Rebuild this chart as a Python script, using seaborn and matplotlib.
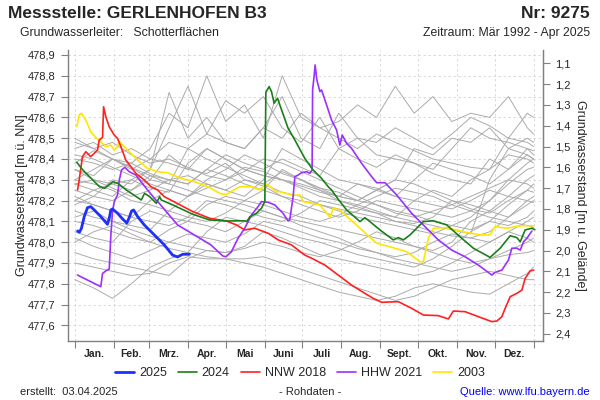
import matplotlib
matplotlib.use("Agg")
import matplotlib.pyplot as plt
from matplotlib.ticker import FixedLocator, FuncFormatter
import seaborn as sns

# --- axis definitions -------------------------------------------------------
month_starts = [0, 31, 59, 90, 120, 151, 181, 212, 243, 273, 304, 334, 365]
month_names = ["Jan.", "Feb.", "Mrz.", "Apr.", "Mai", "Juni", "Juli",
               "Aug.", "Sept.", "Okt.", "Nov.", "Dez."]
left_ticks = [477.6, 477.7, 477.8, 477.9, 478.0, 478.1, 478.2,
              478.3, 478.4, 478.5, 478.6, 478.7, 478.8, 478.9]
right_ticks = [1.1, 1.2, 1.3, 1.4, 1.5, 1.6, 1.7, 1.8, 1.9, 2.0, 2.1, 2.2, 2.3, 2.4]
ground_level = 479.96

# --- highlighted years (day of year, level m ue. NN) -------------------------
days_2025 = [2.2, 3.7, 5.3, 7.5, 10.1, 12.7, 15.5, 20.7, 26.0, 27.4, 28.7, 30.0, 34.0,
             38.0, 41.4, 43.3, 45.2, 46.8, 50.0, 55.3, 63.3, 71.2, 77.8, 81.8, 85.8, 91.2]
level_2025 = [478.054, 478.048, 478.067, 478.123, 478.166, 478.171, 478.155, 478.123,
              478.086, 478.115, 478.155, 478.160, 478.139, 478.112, 478.092, 478.118,
              478.150, 478.155, 478.123, 478.083, 478.035, 477.987, 477.938, 477.929,
              477.942, 477.942]

days_2024 = [1.6, 6.4, 14.3, 19.7, 23.7, 30.3, 34.3, 41.0, 48.9, 52.9, 55.5, 59.5, 64.9,
             67.5, 68.8, 78.0, 94.0, 107.3, 120.6, 133.9, 137.0, 139.2, 144.5, 148.5,
             151.2, 152.0, 154.6, 156.5, 158.6, 161.3, 164.5, 169.7, 175.1, 183.0, 189.6,
             196.3, 201.6, 204.3, 209.6, 216.3, 226.9, 230.8, 234.8, 242.8, 253.4, 257.4,
             261.4, 266.7, 272.0, 277.3, 285.3, 295.9, 306.5, 317.1, 330.4, 338.4, 346.4,
             351.7, 354.4, 358.3, 363.7, 366.0]
level_2024 = [478.384, 478.347, 478.299, 478.267, 478.259, 478.291, 478.283, 478.251,
              478.219, 478.203, 478.235, 478.219, 478.187, 478.219, 478.203, 478.179,
              478.134, 478.107, 478.102, 478.103, 478.100, 478.122, 478.139, 478.163,
              478.195, 478.720, 478.748, 478.724, 478.668, 478.692, 478.636, 478.548,
              478.491, 478.403, 478.347, 478.307, 478.267, 478.251, 478.206, 478.155,
              478.099, 478.118, 478.099, 478.059, 478.011, 478.022, 478.011, 478.035,
              478.067, 478.099, 478.103, 478.083, 478.026, 477.971, 477.927, 477.971,
              478.031, 478.022, 478.002, 478.059, 478.067, 478.060]

days_2018 = [2.2, 3.5, 6.1, 8.8, 12.7, 18.1, 19.4, 22.1, 22.9, 24.7, 27.4, 31.4, 34.0,
             36.7, 40.6, 48.6, 55.3, 60.6, 65.9, 71.2, 94.0, 107.3, 120.6, 128.6, 135.2,
             143.2, 153.8, 161.8, 172.4, 183.0, 188.4, 199.0, 209.6, 220.2, 230.8, 237.5,
             244.1, 257.4, 268.0, 277.3, 289.2, 297.2, 301.2, 310.5, 321.1, 331.8, 335.8,
             339.8, 342.4, 346.4, 351.7, 355.7, 358.3, 362.3, 365.0]
level_2018 = [478.251, 478.299, 478.411, 478.435, 478.411, 478.443, 478.491, 478.504,
              478.651, 478.603, 478.555, 478.515, 478.499, 478.459, 478.395, 478.331,
              478.299, 478.267, 478.251, 478.219, 478.147, 478.115, 478.102, 478.083,
              478.059, 478.067, 478.043, 478.011, 477.987, 477.938, 477.923, 477.890,
              477.842, 477.794, 477.754, 477.730, 477.711, 477.714, 477.682, 477.650,
              477.647, 477.631, 477.669, 477.666, 477.642, 477.618, 477.621, 477.642,
              477.682, 477.738, 477.754, 477.770, 477.826, 477.862, 477.866]

days_2021 = [2.2, 7.5, 20.7, 22.1, 24.7, 27.4, 28.7, 30.0, 31.4, 34.0, 35.4, 37.2, 39.8,
             43.3, 48.6, 52.6, 57.9, 64.5, 67.2, 73.9, 81.8, 95.1, 108.3, 117.7, 120.3,
             124.6, 129.9, 135.2, 140.6, 145.8, 148.5, 153.8, 159.1, 165.7, 169.7, 171.0,
             173.7, 175.1, 177.7, 180.4, 184.4, 187.0, 188.8, 189.2, 190.5, 191.2, 192.6,
             195.0, 196.3, 199.0, 204.3, 208.3, 210.9, 212.8, 216.3, 220.2, 228.2, 236.2,
             240.2, 246.8, 256.1, 268.0, 278.6, 289.2, 299.9, 310.5, 321.1, 331.8, 334.4,
             339.8, 345.0, 347.7, 351.7, 354.4, 357.0, 359.7, 363.7]
level_2021 = [477.842, 477.826, 477.786, 477.850, 477.862, 477.871, 478.035, 478.147,
              478.195, 478.227, 478.299, 478.347, 478.360, 478.339, 478.323, 478.291,
              478.251, 478.203, 478.187, 478.139, 478.083, 478.035, 477.987, 477.934,
              477.930, 477.954, 478.019, 478.067, 478.131, 478.171, 478.195, 478.192,
              478.179, 478.139, 478.102, 478.107, 478.219, 478.315, 478.323, 478.334,
              478.339, 478.331, 478.347, 478.732, 478.804, 478.852, 478.780, 478.724,
              478.732, 478.684, 478.587, 478.539, 478.467, 478.515, 478.475, 478.451,
              478.379, 478.315, 478.286, 478.286, 478.227, 478.139, 478.075, 478.011,
              477.962, 477.930, 477.890, 477.842, 477.855, 477.866, 477.914, 477.971,
              477.971, 477.962, 478.002, 478.019, 478.054]

days_2003 = [1.6, 3.5, 5.3, 8.8, 12.7, 16.7, 20.7, 24.7, 28.7, 31.4, 34.0, 35.4, 42.0,
             50.0, 57.9, 65.9, 73.9, 84.5, 95.1, 105.7, 116.3, 120.6, 131.2, 140.6, 147.2,
             152.5, 160.5, 163.1, 173.7, 179.0, 181.7, 195.0, 203.0, 205.6, 210.9, 226.9,
             240.2, 250.8, 264.1, 274.7, 277.3, 281.3, 285.3, 295.9, 309.2, 322.5, 330.4,
             334.4, 343.8, 354.4, 365.0]
level_2003 = [478.555, 478.612, 478.620, 478.587, 478.531, 478.504, 478.483, 478.459,
              478.467, 478.443, 478.459, 478.483, 478.443, 478.395, 478.355, 478.339,
              478.334, 478.307, 478.291, 478.267, 478.232, 478.230, 478.267, 478.267,
              478.251, 478.280, 478.243, 478.243, 478.225, 478.227, 478.195, 478.179,
              478.120, 478.163, 478.155, 478.067, 477.995, 477.978, 477.954, 477.906,
              477.906, 478.019, 478.067, 478.070, 478.050, 478.035, 478.035, 478.075,
              478.067, 478.079, 478.079]

# --- other years (grey background), sampled every 15 days ---------------------
gray_days = [0, 15, 30, 45, 60, 75, 90, 105, 120, 135, 150, 165, 180,
             195, 210, 225, 240, 255, 270, 285, 300, 315, 330, 345, 360, 365]
gray_a = [478.30, 478.35, 478.40, 478.38, 478.45, 478.62, 478.55, 478.80, 478.58, 478.66,
          478.50, 478.80, 478.60, 478.55, 478.58, 478.66, 478.60, 478.75, 478.62, 478.70,
          478.58, 478.62, 478.60, 478.70, 478.55, 478.52]
gray_b = [478.20, 478.25, 478.28, 478.30, 478.35, 478.72, 478.50, 478.60, 478.48, 478.45,
          478.55, 478.70, 478.50, 478.45, 478.62, 478.50, 478.42, 478.40, 478.38, 478.35,
          478.45, 478.55, 478.50, 478.48, 478.45, 478.44]
gray_c = [478.45, 478.48, 478.42, 478.45, 478.40, 478.38, 478.35, 478.45, 478.40, 478.35,
          478.32, 478.30, 478.28, 478.25, 478.22, 478.20, 478.25, 478.30, 478.45, 478.42,
          478.50, 478.48, 478.55, 478.45, 478.50, 478.48]
gray_d = [478.40, 478.38, 478.35, 478.38, 478.33, 478.30, 478.32, 478.28, 478.25, 478.30,
          478.27, 478.22, 478.20, 478.18, 478.16, 478.14, 478.12, 478.10, 478.09, 478.12,
          478.20, 478.18, 478.15, 478.22, 478.30, 478.32]
gray_e = [478.35, 478.32, 478.40, 478.36, 478.30, 478.42, 478.35, 478.33, 478.38, 478.30,
          478.28, 478.34, 478.30, 478.26, 478.24, 478.20, 478.18, 478.15, 478.13, 478.10,
          478.08, 478.06, 478.10, 478.18, 478.25, 478.28]
gray_f = [478.28, 478.25, 478.22, 478.30, 478.26, 478.24, 478.38, 478.45, 478.40, 478.35,
          478.32, 478.30, 478.26, 478.22, 478.20, 478.18, 478.15, 478.12, 478.20, 478.25,
          478.22, 478.30, 478.35, 478.42, 478.40, 478.38]
gray_g = [478.22, 478.18, 478.15, 478.12, 478.20, 478.25, 478.22, 478.30, 478.35, 478.42,
          478.38, 478.33, 478.30, 478.25, 478.20, 478.17, 478.14, 478.10, 478.08, 478.05,
          478.03, 478.02, 478.05, 478.12, 478.20, 478.22]
gray_h = [478.15, 478.12, 478.10, 478.08, 478.06, 478.15, 478.22, 478.28, 478.25, 478.22,
          478.30, 478.45, 478.40, 478.35, 478.30, 478.28, 478.26, 478.22, 478.30, 478.38,
          478.35, 478.32, 478.28, 478.35, 478.45, 478.42]
gray_i = [478.48, 478.45, 478.40, 478.36, 478.32, 478.28, 478.25, 478.22, 478.20, 478.18,
          478.15, 478.12, 478.10, 478.08, 478.06, 478.04, 478.02, 478.00, 477.98, 477.96,
          478.00, 478.10, 478.15, 478.12, 478.18, 478.20]
gray_j = [478.05, 478.02, 478.00, 478.10, 478.15, 478.12, 478.10, 478.18, 478.22, 478.20,
          478.25, 478.35, 478.30, 478.26, 478.22, 478.20, 478.25, 478.30, 478.28, 478.24,
          478.20, 478.16, 478.14, 478.20, 478.25, 478.24]
gray_k = [478.10, 478.08, 478.05, 478.02, 478.00, 477.97, 477.95, 478.05, 478.12, 478.10,
          478.08, 478.05, 478.02, 478.00, 477.97, 477.94, 477.92, 477.90, 477.88, 477.92,
          477.98, 478.05, 478.10, 478.08, 478.12, 478.15]
gray_l = [477.95, 477.92, 477.90, 477.88, 477.86, 477.84, 477.92, 477.96, 477.95, 477.98,
          478.05, 478.02, 477.98, 477.94, 477.92, 477.90, 477.88, 477.86, 477.84, 477.86,
          477.90, 477.95, 478.00, 478.05, 478.02, 478.00]
gray_m = [477.82, 477.78, 477.73, 477.80, 477.88, 477.92, 477.95, 477.93, 477.92, 477.90,
          477.88, 477.85, 477.82, 477.79, 477.76, 477.74, 477.72, 477.74, 477.78, 477.80,
          477.78, 477.76, 477.75, 477.80, 477.85, 477.88]
gray_n = [477.90, 477.88, 477.86, 477.84, 477.85, 477.90, 477.93, 477.92, 477.92, 477.92,
          477.93, 477.90, 477.87, 477.84, 477.81, 477.78, 477.75, 477.72, 477.74, 477.78,
          477.82, 477.84, 477.86, 477.84, 477.82, 477.82]
gray_o = [478.12, 478.15, 478.10, 478.06, 478.03, 478.00, 477.98, 477.96, 477.95, 477.97,
          478.00, 477.98, 477.95, 477.93, 477.96, 478.00, 478.05, 478.02, 477.98, 477.95,
          477.92, 477.90, 477.92, 477.94, 477.95, 477.96]
gray_p = [478.30, 478.28, 478.25, 478.20, 478.18, 478.15, 478.12, 478.10, 478.14, 478.20,
          478.18, 478.15, 478.12, 478.10, 478.13, 478.18, 478.22, 478.26, 478.24, 478.22,
          478.18, 478.15, 478.12, 478.10, 478.08, 478.07]
gray_q = [478.38, 478.44, 478.40, 478.35, 478.40, 478.48, 478.45, 478.40, 478.36, 478.32,
          478.28, 478.24, 478.22, 478.18, 478.15, 478.12, 478.10, 478.08, 478.06, 478.04,
          478.08, 478.12, 478.20, 478.28, 478.35, 478.36]
gray_r = [478.18, 478.22, 478.20, 478.25, 478.32, 478.30, 478.28, 478.35, 478.32, 478.28,
          478.25, 478.22, 478.18, 478.15, 478.12, 478.15, 478.20, 478.18, 478.16, 478.14,
          478.12, 478.15, 478.20, 478.30, 478.38, 478.40]
gray_s = [478.42, 478.40, 478.36, 478.32, 478.28, 478.25, 478.22, 478.26, 478.30, 478.34,
          478.40, 478.38, 478.34, 478.30, 478.26, 478.22, 478.18, 478.14, 478.12, 478.15,
          478.18, 478.22, 478.26, 478.30, 478.28, 478.26]
gray_t = [478.02, 477.98, 477.95, 477.92, 477.96, 478.00, 478.04, 478.02, 478.00, 478.04,
          478.10, 478.08, 478.05, 478.02, 478.00, 477.97, 477.95, 477.92, 477.90, 477.88,
          477.86, 477.88, 477.92, 477.96, 478.00, 478.02]
gray_u = [478.25, 478.22, 478.30, 478.28, 478.35, 478.55, 478.75, 478.52, 478.68, 478.62,
          478.70, 478.55, 478.48, 478.60, 478.45, 478.40, 478.36, 478.42, 478.38, 478.33,
          478.30, 478.28, 478.40, 478.35, 478.42, 478.40]
gray_v = [478.35, 478.30, 478.28, 478.25, 478.30, 478.28, 478.45, 478.52, 478.48, 478.45,
          478.55, 478.50, 478.62, 478.55, 478.50, 478.45, 478.52, 478.48, 478.44, 478.40,
          478.38, 478.36, 478.35, 478.50, 478.48, 478.46]
gray_w = [478.20, 478.18, 478.15, 478.12, 478.10, 478.08, 478.12, 478.20, 478.18, 478.15,
          478.12, 478.10, 478.14, 478.20, 478.18, 478.16, 478.14, 478.12, 478.10, 478.08,
          478.06, 478.04, 478.30, 478.45, 478.42, 478.40]
gray_x = [478.50, 478.45, 478.48, 478.42, 478.38, 478.40, 478.36, 478.32, 478.30, 478.36,
          478.34, 478.30, 478.27, 478.24, 478.22, 478.28, 478.25, 478.22, 478.20, 478.18,
          478.16, 478.20, 478.25, 478.22, 478.20, 478.19]
gray_y = [478.00, 478.05, 478.08, 478.04, 478.00, 478.06, 478.10, 478.08, 478.05, 478.10,
          478.15, 478.12, 478.08, 478.05, 478.02, 477.98, 477.95, 477.93, 477.95, 478.00,
          478.04, 478.02, 478.00, 478.05, 478.10, 478.12]
gray_z = [478.28, 478.30, 478.26, 478.22, 478.25, 478.30, 478.28, 478.35, 478.42, 478.38,
          478.35, 478.40, 478.36, 478.32, 478.45, 478.50, 478.48, 478.55, 478.50, 478.45,
          478.52, 478.60, 478.56, 478.50, 478.62, 478.60]
gray_series = [gray_a, gray_b, gray_c, gray_d, gray_e, gray_f, gray_g, gray_h, gray_i,
               gray_j, gray_k, gray_l, gray_m, gray_n, gray_o, gray_p, gray_q, gray_r,
               gray_s, gray_t, gray_u, gray_v, gray_w, gray_x, gray_y, gray_z]

y_min, y_max = 477.525, 478.924
axis_gray = "#808080"


def comma(v, pos):
    return "{:.1f}".format(v).replace(".", ",")


sns.set_style("white")
plt.rcParams["font.family"] = ["Liberation Sans", "DejaVu Sans"]

fig = plt.figure(figsize=(6, 4), dpi=100)
ax = fig.add_axes([68 / 600, 1 - 341 / 400, 475 / 600, 291 / 400])

for vals in gray_series:
    sns.lineplot(x=gray_days, y=vals, color="#ababab", linewidth=0.7,
                 estimator=None, sort=False, ax=ax)

# highlighted years, back to front
sns.lineplot(x=days_2003, y=level_2003, color="#ffe600", linewidth=1.2,
             estimator=None, sort=False, label="2003", ax=ax)
sns.lineplot(x=days_2021, y=level_2021, color="#9b30ff", linewidth=1.2,
             estimator=None, sort=False, label="HHW 2021", ax=ax)
sns.lineplot(x=days_2018, y=level_2018, color="#ff2020", linewidth=1.2,
             estimator=None, sort=False, label="NNW 2018", ax=ax)
sns.lineplot(x=days_2024, y=level_2024, color="#1a7f1a", linewidth=1.2,
             estimator=None, sort=False, label="2024", ax=ax)
sns.lineplot(x=days_2025, y=level_2025, color="#1f2fff", linewidth=2.0,
             estimator=None, sort=False, label="2025", ax=ax)

handles, labels = ax.get_legend_handles_labels()
ax.get_legend().remove()
order = ["2025", "2024", "NNW 2018", "HHW 2021", "2003"]
handles = [handles[labels.index(o)] for o in order]
fig.legend(handles, order, loc="center", bbox_to_anchor=(300 / 600, 1 - 373 / 400),
           ncol=5, frameon=False, fontsize=9, handlelength=1.5, handletextpad=0.4,
           columnspacing=0.9)

ax.set_xlim(-5.4, 372.5)
ax.set_ylim(y_min, y_max)
ax.set_xlabel("")
ax.set_ylabel("")

# month boundaries as ticks, names in the middle
ax.xaxis.set_major_locator(FixedLocator(month_starts))
ax.xaxis.set_major_formatter(FuncFormatter(lambda v, p: ""))
mids = [(month_starts[i] + month_starts[i + 1]) / 2 for i in range(12)]
ax.xaxis.set_minor_locator(FixedLocator(mids))
ax.set_xticklabels(month_names, minor=True, fontsize=7.5, fontweight="bold")
ax.tick_params(axis="x", which="major", direction="out", length=5, color=axis_gray,
               bottom=True)
ax.tick_params(axis="x", which="minor", length=0, pad=6)

ax.set_yticks(left_ticks)
ax.yaxis.set_major_formatter(FuncFormatter(comma))
ax.tick_params(axis="y", direction="out", length=5, color=axis_gray, labelsize=8, pad=4,
               left=True)

ax.grid(True, which="major", linestyle=(0, (3, 3)), color="#d4d4d4", linewidth=0.6)
ax.set_axisbelow(True)
for side in ["left", "bottom", "right"]:
    ax.spines[side].set_color(axis_gray)
    ax.spines[side].set_linewidth(1.0)
ax.spines["top"].set_visible(False)

# metres below ground on the right
ax2 = ax.twinx()
ax2.set_ylim(ground_level - y_min, ground_level - y_max)
ax2.set_yticks(right_ticks)
ax2.yaxis.set_major_formatter(FuncFormatter(comma))
ax2.tick_params(axis="y", direction="out", length=5, color=axis_gray, labelsize=8,
                pad=4, right=True)
for side in ["left", "bottom", "top"]:
    ax2.spines[side].set_visible(False)
ax2.spines["right"].set_color(axis_gray)
ax2.grid(False)

fig.text(22 / 600, 1 - 195 / 400, "Grundwasserstand [m ü. NN]", rotation=90,
         ha="center", va="center", fontsize=9)
fig.text(580 / 600, 1 - 195 / 400, "Grundwasserstand [m u. Gelände]", rotation=270,
         ha="center", va="center", fontsize=9)

fig.text(8 / 600, 1 - 14 / 400, "Messstelle: GERLENHOFEN B3", fontsize=12.5,
         fontweight="bold", va="center")
fig.text(590 / 600, 1 - 14 / 400, "Nr: 9275", fontsize=12.5, fontweight="bold",
         va="center", ha="right")
fig.text(20 / 600, 1 - 33 / 400, "Grundwasserleiter:   Schotterflächen", fontsize=8.8,
         va="center")
fig.text(590 / 600, 1 - 33 / 400, "Zeitraum: Mär 1992 - Apr 2025", fontsize=8.8,
         va="center", ha="right")
fig.text(20 / 600, 1 - 392 / 400, "erstellt:  03.04.2025", fontsize=8, va="center")
fig.text(310 / 600, 1 - 392 / 400, "- Rohdaten -", fontsize=8, va="center", ha="center")
fig.text(590 / 600, 1 - 392 / 400, "Quelle: www.lfu.bayern.de", fontsize=8,
         va="center", ha="right", color="#0000ff")

fig.savefig("out.png", dpi=100)
